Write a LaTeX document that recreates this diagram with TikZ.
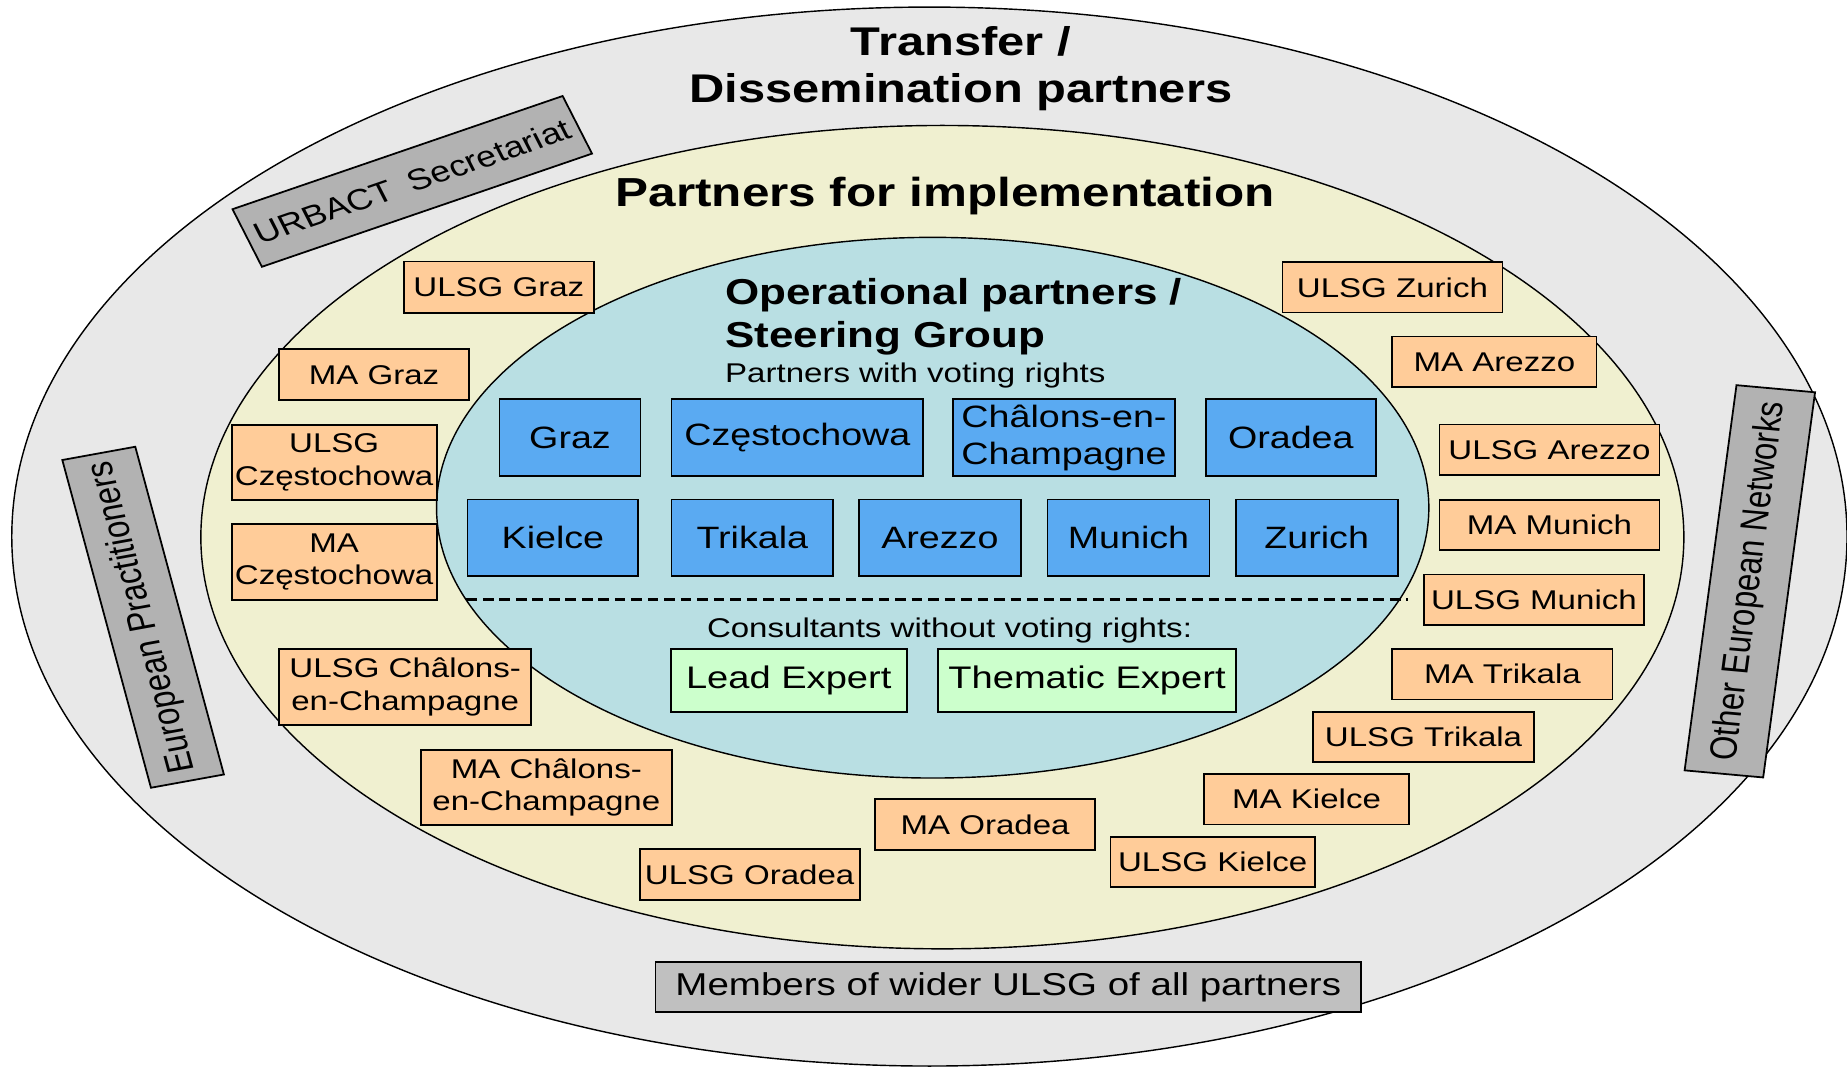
\documentclass[tikz,border=0pt]{standalone}
\usepackage{fontspec}
\setmainfont{Liberation Sans}[FakeStretch=1.22]
\newfontfamily\plainsans{Liberation Sans}
\usepackage{tikz}

\definecolor{outergray}{HTML}{E8E8E8}
\definecolor{implyellow}{HTML}{F0F0D0}
\definecolor{opblue}{HTML}{B9DFE3}
\definecolor{cityblue}{HTML}{5AAAF2}
\definecolor{expertgreen}{HTML}{CCFFCC}
\definecolor{ulsgorange}{HTML}{FFCC99}
\definecolor{tiltgray}{HTML}{B2B2B2}
\definecolor{memgray}{HTML}{C0C0C0}

\begin{document}
\begin{tikzpicture}[x=1pt, y=-1pt,
    sz/.style 2 args={minimum width=#1pt, minimum height=#2pt},
    cell/.style={draw=black, line width=1.5pt, inner sep=0pt, align=center},
    citybox/.style={cell, fill=cityblue, font=\fontsize{26.2}{31.4}\selectfont},
    expertbox/.style={cell, fill=expertgreen, font=\fontsize{26.5}{31}\selectfont},
    ulsgbox/.style={cell, fill=ulsgorange, font=\fontsize{23}{27.5}\selectfont},
    tiltbox/.style={cell, fill=tiltgray, transform shape, font=\plainsans\fontsize{26.5}{30}\selectfont}]
    \useasboundingbox (0,0) rectangle (1568,905);
    \draw[fill=outergray, line width=1.2pt] (789,455.5) ellipse [x radius=779pt, y radius=449.5pt];
    \draw[fill=implyellow, line width=1.2pt] (800,456) ellipse [x radius=629.5pt, y radius=349.5pt];
    \draw[fill=opblue, line width=1.2pt] (791.8,431) ellipse [x radius=421.2pt, y radius=229.5pt];

    \node[inner sep=0pt, align=center, font=\bfseries\fontsize{34}{40}\selectfont] (transfer) at (815.7,58.2) {Transfer /\\Dissemination partners};
    \node[inner sep=0pt, anchor=base, font=\bfseries\fontsize{34.4}{40}\selectfont] (impl) at (802.5,175.7) {Partners for implementation};
    \node[inner sep=0pt, anchor=west, align=left, font=\bfseries\fontsize{30.6}{36.7}\selectfont] (opgroup) at (615.4,269) {Operational partners /\\Steering Group};
    \node[inner sep=0pt, anchor=base west, font=\fontsize{23}{28}\selectfont] (voting) at (615.4,325) {Partners with voting rights};

    \node[citybox, sz={119.8}{65}] (graz) at (483.9,371.5) {Graz};
    \node[citybox, sz={213.7}{65}] (czest) at (676.9,371.5) {Częstochowa};
    \node[citybox, sz={188.5}{65}, align=left] (chalons) at (903.3,371.5) {Châlons-en-\\Champagne};
    \node[citybox, sz={144.5}{65}] (oradea) at (1095.8,371.5) {Oradea};
    \node[citybox, sz={145}{65}] (kielce) at (469.4,456.5) {Kielce};
    \node[citybox, sz={137.4}{65}] (trikala) at (638.7,456.5) {Trikala};
    \node[citybox, sz={137.7}{65}] (arezzo) at (797.9,456.5) {Arezzo};
    \node[citybox, sz={137.4}{65}] (munich) at (958,456.5) {Munich};
    \node[citybox, sz={137.6}{65}] (zurich) at (1117.8,456.5) {Zurich};

    \coordinate (dashL) at (396,509);
    \coordinate (dashR) at (1195,509);
    \draw[line width=2pt, dash pattern=on 9pt off 5pt] (dashL) -- (dashR);

    \node[inner sep=0pt, anchor=base west, font=\fontsize{23}{28}\selectfont] (consult) at (600,541) {Consultants without voting rights:};
    \node[expertbox, sz={200.3}{53.6}] (lead) at (669.6,577.8) {Lead Expert};
    \node[expertbox, sz={253.6}{53.6}] (thematic) at (922.8,577.8) {Thematic Expert};

    \node[ulsgbox, sz={161}{43.8}] (ulsggraz) at (423.5,243.9) {ULSG Graz};
    \node[ulsgbox, sz={161}{43.2}] (magraz) at (317.5,318.1) {MA Graz};
    \node[ulsgbox, sz={174}{64}] (ulsgczest) at (283.7,392.6) {ULSG\\Częstochowa};
    \node[ulsgbox, sz={174}{64.5}] (maczest) at (283.7,477.3) {MA\\Częstochowa};
    \node[ulsgbox, sz={214}{64.6}] (ulsgchalons) at (344,583.3) {ULSG Châlons-\\en-Champagne};
    \node[ulsgbox, sz={213.2}{63.5}] (machalons) at (463.8,668.3) {MA Châlons-\\en-Champagne};
    \node[ulsgbox, sz={186.8}{43.3}] (ulsgoradea) at (636.4,742.4) {ULSG Oradea};
    \node[ulsgbox, sz={186.5}{43.3}] (maoradea) at (836.3,700) {MA Oradea};
    \node[ulsgbox, sz={173.7}{43}] (ulsgkielce) at (1029.5,731.8) {ULSG Kielce};
    \node[ulsgbox, sz={173.6}{43}] (makielce) at (1109.2,678.5) {MA Kielce};
    \node[ulsgbox, sz={187.1}{43}] (ulsgtrikala) at (1208.5,625.7) {ULSG Trikala};
    \node[ulsgbox, sz={187}{43}] (matrikala) at (1275.5,572.3) {MA Trikala};
    \node[ulsgbox, sz={187}{42.6}] (ulsgmunich) at (1302.2,509.1) {ULSG Munich};
    \node[ulsgbox, sz={186.7}{42.6}] (mamunich) at (1315.4,445.8) {MA Munich};
    \node[ulsgbox, sz={186.7}{43}] (ulsgarezzo) at (1315.4,381.9) {ULSG Arezzo};
    \node[ulsgbox, sz={173.4}{43}] (maarezzo) at (1268.7,307.2) {MA Arezzo};
    \node[ulsgbox, sz={186.8}{42.7}] (ulsgzurich) at (1182.1,244) {ULSG Zurich};

    \node[cell, fill=memgray, sz={599}{42.7}, font=\fontsize{26.8}{32}\selectfont] (members) at (856,837.8) {Members of wider ULSG of all partners};

    \begin{scope}[shift={(350,154)}, xscale=1.22]
        \node[tiltbox, sz={249}{53}, rotate=22.7, font=\plainsans\fontsize{25}{30}\selectfont] (urbact) at (0,0) {URBACT\enspace Secretariat};
    \end{scope}
    \begin{scope}[shift={(121.5,524)}, xscale=1.22]
        \node[tiltbox, sz={285}{52}, rotate=102.5] (europract) at (0,0) {European Practitioners};
    \end{scope}
    \begin{scope}[shift={(1485.5,493.5)}, xscale=1.22]
        \node[tiltbox, sz={329}{55}, rotate=83.7] (othernet) at (0,0) {Other European Networks};
    \end{scope}
\end{tikzpicture}
\end{document}
